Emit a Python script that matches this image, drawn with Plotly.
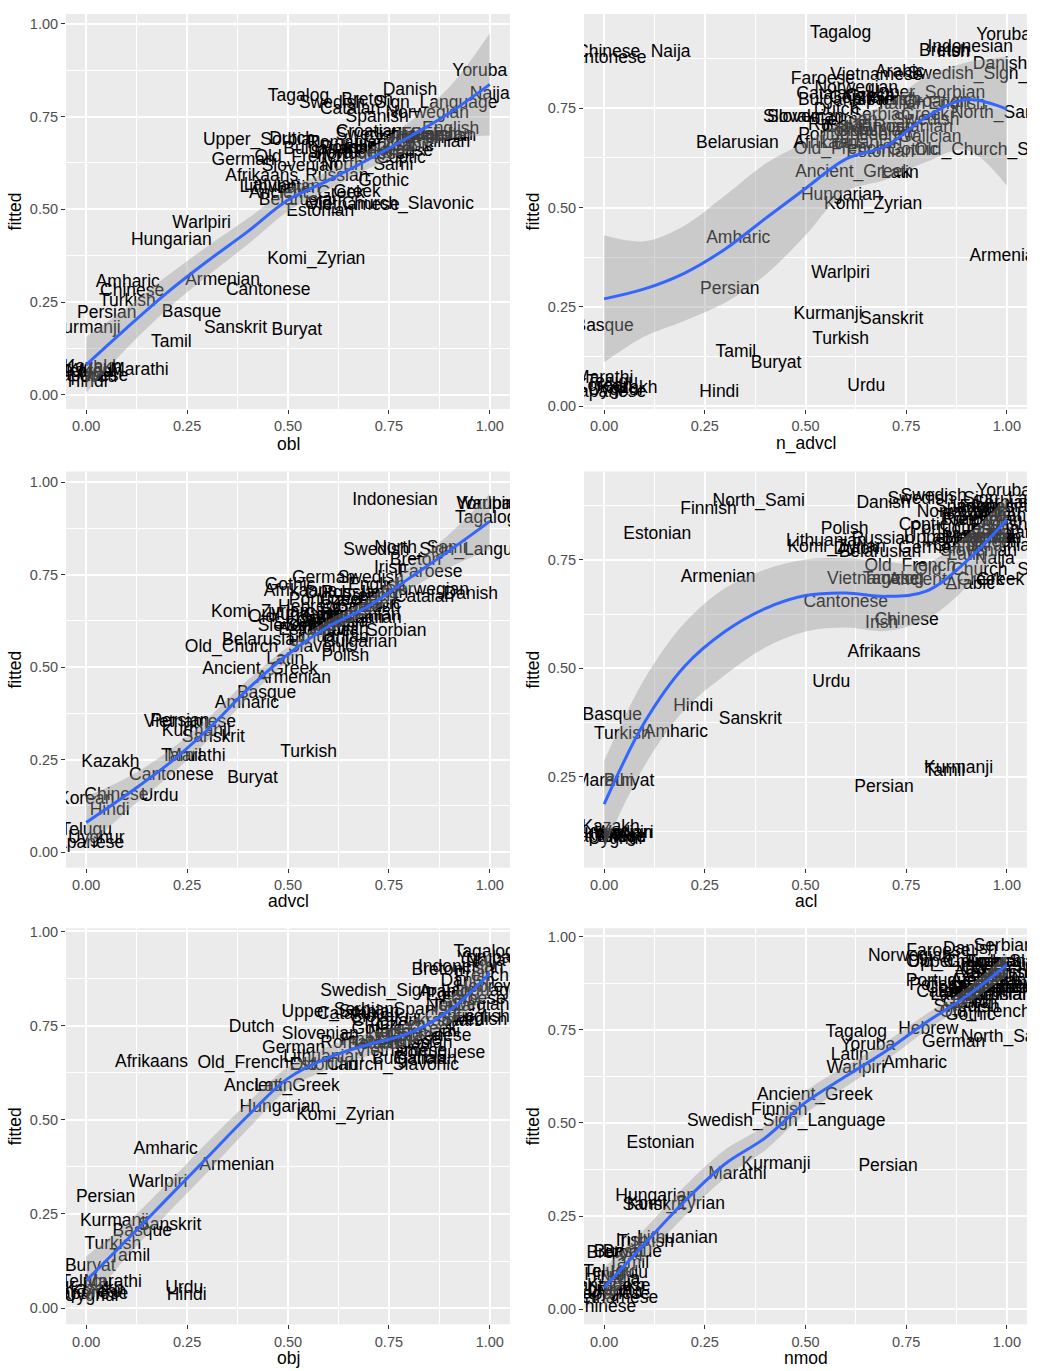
import plotly.graph_objects as go

FONT = "Liberation Sans, Arial, Helvetica, sans-serif"

languages = [
    "Afrikaans", "Amharic", "Ancient_Greek", "Arabic", "Armenian", "Basque", "Belarusian",
    "Breton", "Bulgarian", "Buryat", "Cantonese", "Catalan", "Chinese", "Coptic", "Croatian",
    "Czech", "Danish", "Dutch", "English", "Estonian", "Faroese", "Finnish", "French",
    "Galician", "German", "Gothic", "Greek", "Hebrew", "Hindi", "Hungarian", "Indonesian",
    "Irish", "Italian", "Japanese", "Kazakh", "Komi_Zyrian", "Korean", "Kurmanji", "Latin",
    "Latvian", "Lithuanian", "Marathi", "Naija", "North_Sami", "Norwegian",
    "Old_Church_Slavonic", "Old_French", "Persian", "Polish", "Portuguese", "Romanian",
    "Russian", "Sanskrit", "Serbian", "Slovak", "Slovenian", "Spanish", "Swedish",
    "Swedish_Sign_Language", "Tagalog", "Tamil", "Telugu", "Turkish", "Ukrainian",
    "Upper_Sorbian", "Urdu", "Uyghur", "Vietnamese", "Warlpiri", "Yoruba",
]

# ---- panel 1: obl ----
obl_x = [0.435, 0.103, 0.547, 0.80, 0.338, 0.261, 0.53, 0.696, 0.58, 0.522, 0.451, 0.654, 0.114,
         0.78, 0.70, 0.75, 0.802, 0.51, 0.903, 0.58, 0.78, 0.85, 0.82, 0.88, 0.389, 0.737, 0.671,
         0.74, 0.004, 0.211, 0.86, 0.68, 0.83, 0.01, 0.016, 0.570, 0.02, 0.0, 0.52, 0.46, 0.48,
         0.132, 1.0, 0.696, 0.845, 0.751, 0.53, 0.051, 0.64, 0.68, 0.646, 0.621, 0.370, 0.74,
         0.62, 0.53, 0.721, 0.70, 0.773, 0.526, 0.211, 0.0, 0.102, 0.86, 0.435, 0.03, 0.01,
         0.663, 0.286, 0.975]
obl_y = [0.587, 0.303, 0.542, 0.67, 0.309, 0.221, 0.524, 0.792, 0.661, 0.174, 0.282, 0.770, 0.277,
         0.636, 0.707, 0.69, 0.821, 0.687, 0.716, 0.493, 0.655, 0.70, 0.69, 0.70, 0.632, 0.574,
         0.544, 0.67, 0.034, 0.415, 0.695, 0.66, 0.70, 0.05, 0.074, 0.364, 0.06, 0.178, 0.555,
         0.565, 0.558, 0.065, 0.81, 0.618, 0.757, 0.513, 0.639, 0.219, 0.665, 0.648, 0.676,
         0.587, 0.178, 0.65, 0.65, 0.615, 0.748, 0.70, 0.786, 0.805, 0.141, 0.06, 0.250, 0.68,
         0.685, 0.045, 0.07, 0.511, 0.462, 0.870]

# ---- panel 2: n_advcl ----
n_advcl_x = [0.56, 0.333, 0.618, 0.734, 1.0, 0.0, 0.331, 0.846, 0.573, 0.427, 0.0, 0.552, 0.01,
             0.62, 0.826, 0.66, 0.983, 0.577, 0.876, 0.686, 0.543, 0.70, 0.72, 0.809, 0.60,
             0.767, 0.797, 0.70, 0.286, 0.589, 0.909, 0.867, 0.74, 0.01, 0.06, 0.668, 0.0,
             0.556, 0.734, 0.62, 0.64, 0.0, 0.165, 0.976, 0.626, 0.98, 0.585, 0.312, 0.60,
             0.593, 0.767, 0.585, 0.714, 0.686, 0.46, 0.50, 0.70, 0.80, 1.0, 0.587, 0.327, 0.02,
             0.587, 0.67, 0.80, 0.651, 0.03, 0.676, 0.587, 0.992]
n_advcl_y = [0.66, 0.4225, 0.589, 0.839, 0.377, 0.20, 0.662, 0.893, 0.768, 0.1075, 0.874, 0.785,
             0.891, 0.775, 0.764, 0.78, 0.86, 0.743, 0.76, 0.639, 0.8225, 0.70, 0.77, 0.677,
             0.72, 0.643, 0.731, 0.68, 0.035, 0.531, 0.902, 0.891, 0.76, 0.035, 0.043, 0.508,
             0.05, 0.229, 0.585, 0.70, 0.66, 0.068, 0.891, 0.737, 0.80, 0.643, 0.646, 0.293,
             0.69, 0.681, 0.70, 0.706, 0.218, 0.731, 0.727, 0.727, 0.77, 0.72, 0.835, 0.9375,
             0.135, 0.06, 0.168, 0.69, 0.787, 0.05, 0.04, 0.831, 0.3325, 0.932]

# ---- panel 3: advcl ----
advcl_x = [0.53, 0.398, 0.431, 0.72, 0.514, 0.447, 0.439, 0.816, 0.679, 0.412, 0.211, 0.837,
           0.075, 0.60, 0.66, 0.64, 0.953, 0.60, 0.72, 0.56, 0.853, 0.62, 0.70, 0.66, 0.588,
           0.505, 0.58, 0.55, 0.058, 0.55, 0.765, 0.754, 0.74, 0.0, 0.06, 0.431, 0.0, 0.273,
           0.493, 0.63, 0.60, 0.273, 0.65, 0.828, 0.845, 0.454, 0.514, 0.232, 0.642, 0.613,
           0.68, 0.66, 0.315, 0.57, 0.53, 0.52, 0.70, 0.705, 0.883, 0.99, 0.236, 0.0, 0.551,
           0.69, 0.697, 0.182, 0.025, 0.257, 0.99, 0.986]
advcl_y = [0.704, 0.40, 0.492, 0.67, 0.47, 0.4275, 0.572, 0.787, 0.565, 0.199, 0.208, 0.687,
           0.152, 0.64, 0.66, 0.68, 0.695, 0.70, 0.72, 0.60, 0.756, 0.62, 0.69, 0.63, 0.738,
           0.72, 0.62, 0.66, 0.112, 0.64, 0.950, 0.765, 0.70, 0.022, 0.243, 0.648, 0.143, 0.326,
           0.521, 0.60, 0.58, 0.258, 0.62, 0.821, 0.707, 0.553, 0.635, 0.353, 0.528, 0.68,
           0.64, 0.70, 0.309, 0.61, 0.615, 0.61, 0.66, 0.738, 0.816, 0.902, 0.258, 0.058, 0.268,
           0.63, 0.595, 0.150, 0.0375, 0.349, 0.94, 0.939]

# ---- panel 4: acl ----
acl_x = [0.695, 0.178, 0.85, 0.909, 0.283, 0.02, 0.685, 0.90, 0.93, 0.062, 0.60, 0.96, 0.751,
         0.793, 0.95, 0.97, 0.694, 0.626, 0.98, 0.132, 0.92, 0.259, 0.95, 0.99, 0.809, 0.88,
         0.984, 0.92, 0.221, 0.02, 0.97, 0.689, 0.99, 0.01, 0.016, 0.577, 0.02, 0.88, 0.90,
         0.86, 0.552, 0.0, 0.97, 0.384, 0.88, 0.98, 0.76, 0.695, 0.597, 0.87, 0.94, 0.693,
         0.363, 0.99, 0.96, 0.93, 0.90, 0.818, 0.95, 0.718, 0.846, 0.04, 0.045, 0.99, 0.89,
         0.564, 0.03, 0.668, 0.05, 0.992]
acl_y = [0.536, 0.352, 0.702, 0.693, 0.71, 0.391, 0.767, 0.84, 0.80, 0.24, 0.652, 0.86, 0.609,
         0.828, 0.82, 0.79, 0.88, 0.774, 0.83, 0.809, 0.85, 0.867, 0.87, 0.81, 0.777, 0.78,
         0.702, 0.80, 0.412, 0.12, 0.87, 0.603, 0.85, 0.11, 0.134, 0.778, 0.115, 0.269, 0.76,
         0.80, 0.793, 0.24, 0.75, 0.885, 0.86, 0.725, 0.735, 0.225, 0.82, 0.82, 0.84, 0.797,
         0.382, 0.88, 0.80, 0.77, 0.87, 0.896, 0.89, 0.704, 0.261, 0.11, 0.347, 0.78, 0.80,
         0.466, 0.105, 0.704, 0.12, 0.908]

# ---- panel 5: obj ----
obj_x = [0.162, 0.197, 0.485, 0.886, 0.373, 0.139, 0.75, 0.87, 0.80, 0.01, 0.85, 0.646, 0.80,
         0.90, 0.74, 0.78, 0.945, 0.41, 0.978, 0.588, 0.96, 0.70, 0.98, 0.84, 0.514, 0.72,
         0.86, 0.99, 0.249, 0.48, 0.928, 0.97, 0.92, 0.01, 0.02, 0.642, 0.03, 0.07, 0.464,
         0.76, 0.588, 0.066, 0.99, 0.812, 0.945, 0.714, 0.389, 0.048, 0.90, 0.878, 0.679,
         0.829, 0.207, 0.688, 0.72, 0.58, 0.84, 0.961, 0.826, 0.986, 0.108, 0.0, 0.066, 0.88,
         0.63, 0.243, 0.015, 0.78, 0.178, 0.986]
obj_y = [0.653, 0.422, 0.589, 0.837, 0.378, 0.202, 0.70, 0.895, 0.66, 0.11, 0.72, 0.78, 0.71,
         0.77, 0.76, 0.75, 0.868, 0.745, 0.771, 0.644, 0.82, 0.71, 0.88, 0.66, 0.688, 0.74,
         0.74, 0.85, 0.0335, 0.532, 0.903, 0.90, 0.80, 0.035, 0.05, 0.51, 0.04, 0.229, 0.589,
         0.73, 0.665, 0.067, 0.92, 0.732, 0.802, 0.644, 0.648, 0.294, 0.83, 0.675, 0.703,
         0.703, 0.22, 0.791, 0.77, 0.727, 0.79, 0.763, 0.84, 0.943, 0.136, 0.0685, 0.168, 0.76,
         0.785, 0.053, 0.03, 0.68, 0.334, 0.929]

# ---- panel 6: nmod ----
nmod_x = [0.95, 0.772, 0.523, 0.93, 0.97, 0.07, 0.96, 0.02, 0.92, 0.037, 0.01, 0.85, 0.0,
          0.86, 0.97, 0.95, 0.909, 0.92, 0.98, 0.14, 0.83, 0.435, 0.97, 0.93, 0.868, 0.909,
          0.90, 0.805, 0.0, 0.128, 0.99, 0.07, 0.99, 0.02, 0.03, 0.178, 0.0, 0.427, 0.61, 0.88,
          0.182, 0.331, 0.04, 1.0, 0.759, 0.96, 0.946, 0.705, 0.817, 0.86, 0.98, 0.94, 0.124,
          0.992, 0.96, 0.95, 0.99, 0.90, 0.452, 0.626, 0.061, 0.012, 0.103, 0.97, 0.90, 0.062,
          0.03, 0.02, 0.625, 0.655]
nmod_y = [0.88, 0.658, 0.574, 0.90, 0.86, 0.153, 0.84, 0.15, 0.85, 0.153, 0.06, 0.85, 0.0035,
          0.86, 0.87, 0.91, 0.964, 0.82, 0.90, 0.445, 0.96, 0.534, 0.93, 0.93, 0.716, 0.787,
          0.82, 0.751, 0.09, 0.303, 0.92, 0.181, 0.88, 0.04, 0.06, 0.281, 0.05, 0.388, 0.681,
          0.84, 0.19, 0.361, 0.08, 0.729, 0.947, 0.93, 0.796, 0.383, 0.867, 0.88, 0.86, 0.86,
          0.277, 0.973, 0.89, 0.86, 0.90, 0.81, 0.503, 0.743, 0.122, 0.099, 0.178, 0.84, 0.93,
          0.095, 0.045, 0.03, 0.645, 0.707]

# ---- smoothed fits ----
smooth_x = [0.0, 0.1, 0.2, 0.3, 0.4, 0.5, 0.6, 0.7, 0.8, 0.9, 1.0]

obl_fit = [0.081, 0.18, 0.275, 0.36, 0.44, 0.525, 0.578, 0.635, 0.695, 0.76, 0.837]
obl_lo = [0.006, 0.125, 0.23, 0.32, 0.405, 0.495, 0.553, 0.61, 0.655, 0.69, 0.699]
obl_hi = [0.156, 0.235, 0.32, 0.40, 0.475, 0.555, 0.603, 0.66, 0.735, 0.83, 0.975]

n_advcl_fit = [0.27, 0.295, 0.335, 0.395, 0.472, 0.548, 0.622, 0.655, 0.728, 0.772, 0.748]
n_advcl_lo = [0.11, 0.175, 0.215, 0.26, 0.33, 0.43, 0.54, 0.57, 0.615, 0.645, 0.555]
n_advcl_hi = [0.43, 0.415, 0.455, 0.53, 0.61, 0.665, 0.72, 0.76, 0.83, 0.865, 0.88]

advcl_fit = [0.08, 0.155, 0.235, 0.33, 0.44, 0.535, 0.61, 0.665, 0.74, 0.815, 0.894]
advcl_lo = [0.01, 0.11, 0.20, 0.30, 0.415, 0.515, 0.592, 0.645, 0.71, 0.77, 0.819]
advcl_hi = [0.15, 0.20, 0.27, 0.36, 0.465, 0.555, 0.628, 0.685, 0.77, 0.86, 0.969]

acl_fit = [0.187, 0.375, 0.505, 0.585, 0.638, 0.668, 0.674, 0.666, 0.678, 0.747, 0.843]
acl_lo = [0.087, 0.275, 0.405, 0.485, 0.548, 0.585, 0.594, 0.586, 0.613, 0.687, 0.791]
acl_hi = [0.287, 0.475, 0.605, 0.685, 0.728, 0.751, 0.754, 0.746, 0.743, 0.807, 0.895]

obj_fit = [0.073, 0.18, 0.29, 0.40, 0.51, 0.61, 0.665, 0.70, 0.73, 0.79, 0.89]
obj_lo = [0.008, 0.135, 0.25, 0.36, 0.475, 0.58, 0.635, 0.67, 0.70, 0.755, 0.833]
obj_hi = [0.138, 0.225, 0.33, 0.44, 0.545, 0.64, 0.695, 0.73, 0.76, 0.825, 0.947]

nmod_fit = [0.059, 0.175, 0.29, 0.39, 0.46, 0.555, 0.625, 0.693, 0.77, 0.84, 0.924]
nmod_lo = [0.006, 0.135, 0.25, 0.352, 0.427, 0.525, 0.597, 0.668, 0.748, 0.818, 0.894]
nmod_hi = [0.112, 0.215, 0.33, 0.428, 0.493, 0.585, 0.653, 0.718, 0.792, 0.862, 0.954]

x_titles = ["obl", "n_advcl", "advcl", "acl", "obj", "nmod"]
y_title = "fitted"

panels = [
    (obl_x, obl_y, obl_fit, obl_lo, obl_hi),
    (n_advcl_x, n_advcl_y, n_advcl_fit, n_advcl_lo, n_advcl_hi),
    (advcl_x, advcl_y, advcl_fit, advcl_lo, advcl_hi),
    (acl_x, acl_y, acl_fit, acl_lo, acl_hi),
    (obj_x, obj_y, obj_fit, obj_lo, obj_hi),
    (nmod_x, nmod_y, nmod_fit, nmod_lo, nmod_hi),
]

# ---- layout geometry (pixels) ----
W, H = 1044, 1371
col_px = [(66, 510), (584, 1027)]
row_px = [(9, 407), (470, 869), (930, 1329)]
y_ranges = [[-0.0383, 1.0268], [-0.0075, 0.9875], [-0.0421, 1.0287],
            [0.0406, 0.9537], [-0.043, 1.0087], [-0.040, 1.0221]]
xtitle_py = [442, 903, 1363]

fig = go.Figure()
annotations = []
layout_axes = {}

for i, (px, py, fit, lo, hi) in enumerate(panels):
    r, c = divmod(i, 2)
    suf = "" if i == 0 else str(i + 1)
    xa, ya = "x" + suf, "y" + suf
    fig.add_trace(go.Scatter(
        x=px, y=py, text=languages, mode="text", textposition="middle center",
        textfont=dict(size=17.5, color="black", family=FONT),
        xaxis=xa, yaxis=ya, hoverinfo="skip", showlegend=False, cliponaxis=True))
    fig.add_trace(go.Scatter(
        x=smooth_x, y=lo, mode="lines", line=dict(width=0, shape="spline"),
        xaxis=xa, yaxis=ya, hoverinfo="skip", showlegend=False))
    fig.add_trace(go.Scatter(
        x=smooth_x, y=hi, mode="lines", line=dict(width=0, shape="spline"),
        fill="tonexty", fillcolor="rgba(153,153,153,0.4)",
        xaxis=xa, yaxis=ya, hoverinfo="skip", showlegend=False))
    fig.add_trace(go.Scatter(
        x=smooth_x, y=fit, mode="lines", line=dict(width=3, color="#3366FF", shape="spline"),
        xaxis=xa, yaxis=ya, hoverinfo="skip", showlegend=False))

    x0, x1 = col_px[c]
    y0, y1 = row_px[r]
    common = dict(
        dtick=0.25, tick0=0, tickformat=".2f", showgrid=True, gridcolor="white",
        gridwidth=1.8, zeroline=False, showline=False, ticks="outside", ticklen=4,
        tickwidth=1.1, tickcolor="#333333",
        tickfont=dict(size=14.5, color="#4D4D4D", family=FONT),
        minor=dict(dtick=0.125, tick0=0, showgrid=True, gridcolor="white", gridwidth=0.9),
        fixedrange=True,
    )
    layout_axes["xaxis" + suf] = dict(
        common, domain=[x0 / W, x1 / W], range=[-0.05, 1.05], anchor=ya)
    layout_axes["yaxis" + suf] = dict(
        common, domain=[1 - y1 / H, 1 - y0 / H], range=y_ranges[i], anchor=xa)

    annotations.append(dict(
        text=x_titles[i], xref="paper", yref="paper", x=(x0 + x1) / 2 / W,
        y=1 - xtitle_py[r] / H, xanchor="center", yanchor="middle", showarrow=False,
        font=dict(size=17.5, color="black", family=FONT)))
    annotations.append(dict(
        text=y_title, xref="paper", yref="paper", x=(x0 - 51) / W,
        y=1 - (y0 + y1) / 2 / H, xanchor="center", yanchor="middle", showarrow=False,
        textangle=-90, font=dict(size=17.5, color="black", family=FONT)))

fig.update_layout(
    width=W, height=H, margin=dict(l=0, r=0, t=0, b=0),
    paper_bgcolor="white", plot_bgcolor="#EBEBEB",
    showlegend=False, annotations=annotations, **layout_axes)

post = (
    "document.body.style.margin='0px';"
    "document.body.style.overflow='hidden';"
    "var d=document.getElementById('{plot_id}');"
    "d.style.position='absolute';d.style.left='0px';d.style.top='0px';"
)
fig.write_html("out.html", post_script=post, config={"displayModeBar": False})
